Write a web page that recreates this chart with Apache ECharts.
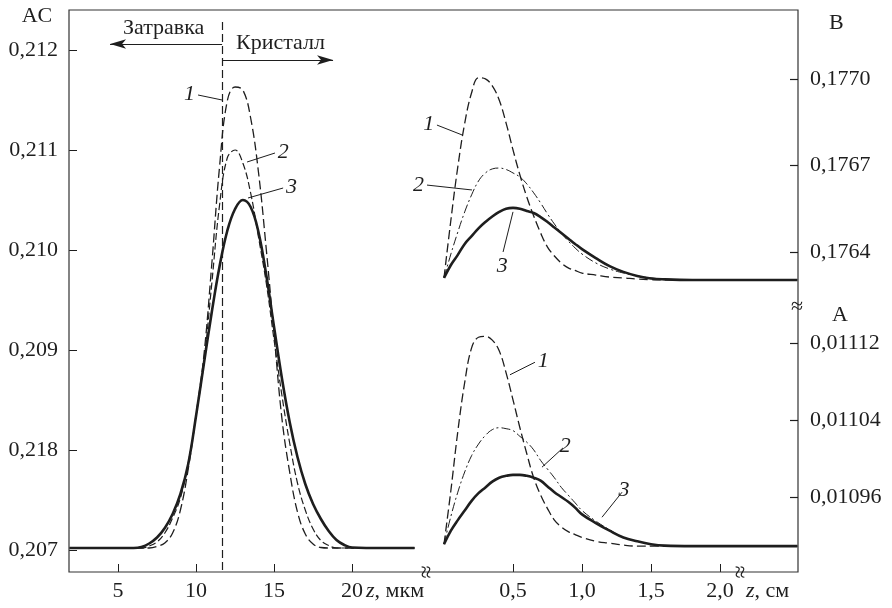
<!DOCTYPE html>
<html><head><meta charset="utf-8">
<script src="https://cdn.jsdelivr.net/npm/echarts@6/dist/echarts.min.js"></script>
<style>html,body{margin:0;padding:0;background:#fff}#c{width:892px;height:608px}</style>
</head><body><div id="c"></div>
<script>
// ---- data: left panel (z, мкм) ----
const zMicron = [1.9, 4, 6, 6.5, 7, 7.5, 8, 8.5, 9, 9.5, 10, 10.5, 11, 11.5, 12, 12.5, 13, 13.5, 14, 14.5, 15, 15.5, 16, 16.5, 17, 17.5, 18, 18.5, 19, 19.5, 20, 22, 24];
const ac1 = [0.20702, 0.20702, 0.20702, 0.20702, 0.20702, 0.207035, 0.20707, 0.20717, 0.2074, 0.20781, 0.20835, 0.20894, 0.20984, 0.21082, 0.21149, 0.21163, 0.2116, 0.21132, 0.21078, 0.21001, 0.20916, 0.20832, 0.20778, 0.20738, 0.20716, 0.20706, 0.207025, 0.20702, 0.20702, 0.20702, 0.20702, 0.20702, 0.20702];
const ac2 = [0.20702, 0.20702, 0.20702, 0.20702, 0.20704, 0.20708, 0.20717, 0.20732, 0.20752, 0.20787, 0.20834, 0.20887, 0.20965, 0.21044, 0.21092, 0.211, 0.21087, 0.21057, 0.21013, 0.20967, 0.2091, 0.20855, 0.20807, 0.20767, 0.2074, 0.20721, 0.207095, 0.207045, 0.20702, 0.20702, 0.20702, 0.20702, 0.20702];
const ac3 = [0.20702, 0.20702, 0.20702, 0.20703, 0.207065, 0.207125, 0.20722, 0.20736, 0.20756, 0.20786, 0.20834, 0.20886, 0.20937, 0.20983, 0.21019, 0.21041, 0.2105, 0.21043, 0.21018, 0.20975, 0.20923, 0.20872, 0.20828, 0.20793, 0.20766, 0.20746, 0.20731, 0.20719, 0.2071, 0.20705, 0.207025, 0.20702, 0.20702];

// ---- data: right panels (z, см) ----
const zCm = [0, 0.05, 0.1, 0.15, 0.2, 0.25, 0.3, 0.35, 0.4, 0.45, 0.5, 0.55, 0.6, 0.65, 0.7, 0.75, 0.8, 0.85, 0.9, 0.95, 1.0, 1.1, 1.2, 1.3, 1.4, 1.5, 1.6, 1.8, 2.0, 2.2, 2.56];
const b1 = [0.17631, 0.176511, 0.176695, 0.176846, 0.176952, 0.177004, 0.177, 0.176976, 0.176927, 0.176847, 0.176754, 0.176667, 0.176591, 0.176525, 0.176466, 0.176417, 0.176386, 0.176362, 0.176345, 0.176336, 0.176327, 0.17632, 0.176313, 0.17631, 0.176306, 0.176304, 0.176303, 0.176303, 0.176303, 0.176303, 0.176303];
const b2 = [0.17631, 0.176393, 0.176469, 0.176539, 0.176598, 0.176646, 0.176674, 0.176688, 0.176691, 0.176686, 0.176674, 0.17666, 0.176636, 0.176605, 0.17657, 0.176532, 0.176497, 0.176466, 0.176438, 0.176414, 0.176393, 0.176362, 0.176341, 0.176327, 0.176317, 0.17631, 0.176306, 0.176303, 0.176303, 0.176303, 0.176303];
const b3 = [0.17631, 0.176355, 0.17639, 0.176428, 0.176455, 0.176482, 0.176504, 0.176523, 0.176539, 0.17655, 0.176553, 0.17655, 0.176542, 0.176535, 0.176521, 0.176504, 0.176485, 0.176466, 0.176447, 0.176428, 0.17641, 0.176379, 0.176351, 0.176331, 0.176317, 0.176308, 0.176305, 0.176303, 0.176303, 0.176303, 0.176303];
const a1 = [0.010911, 0.010967, 0.011028, 0.011079, 0.011115, 0.011126, 0.011127, 0.011123, 0.011112, 0.011089, 0.011061, 0.011032, 0.011005, 0.01098, 0.010962, 0.010948, 0.010936, 0.010929, 0.010924, 0.010921, 0.010918, 0.010914, 0.010912, 0.01091, 0.010909, 0.010909, 0.010909, 0.010909, 0.010909, 0.010909, 0.010909];
const a2 = [0.010911, 0.01094, 0.010965, 0.010986, 0.011003, 0.011015, 0.011024, 0.01103, 0.011032, 0.011031, 0.011029, 0.011023, 0.011017, 0.011009, 0.010998, 0.010989, 0.01098, 0.01097, 0.010962, 0.010954, 0.010946, 0.010935, 0.010926, 0.010918, 0.010914, 0.010911, 0.0109095, 0.010909, 0.010909, 0.010909, 0.010909];
const a3 = [0.010911, 0.010925, 0.010936, 0.010946, 0.010956, 0.010964, 0.01097, 0.010976, 0.01098, 0.010982, 0.010983, 0.010983, 0.010982, 0.01098, 0.010977, 0.010971, 0.010965, 0.01096, 0.010955, 0.010949, 0.010942, 0.010933, 0.010925, 0.010918, 0.010914, 0.010911, 0.0109095, 0.010909, 0.010909, 0.010909, 0.010909];

// ---- tick labels ----
const acTicks = [0.207, 0.208, 0.209, 0.210, 0.211, 0.212];
const acTickLabels = ['0,207', '0,218', '0,209', '0,210', '0,211', '0,212'];
const bTicks = [0.1764, 0.1767, 0.1770];
const bTickLabels = ['0,1764', '0,1767', '0,1770'];
const aTicks = [0.01096, 0.01104, 0.01112];
const aTickLabels = ['0,01096', '0,01104', '0,01112'];
const zMicronTicks = [5, 10, 15, 20];
const zMicronTickLabels = ['5', '10', '15', '20'];
const zCmTicks = [0.5, 1.0, 1.5, 2.0];
const zCmTickLabels = ['0,5', '1,0', '1,5', '2,0'];
const seedBoundary = 11.67;

const FONT = "'Liberation Serif', 'Times New Roman', serif";
const INK = '#1e1e1e';
const ZCM_MIN = -0.1232, ZCM_MAX = 2.5652;
function lab(vals, labels) {
  return function (v) {
    let best = 0, d = Infinity;
    vals.forEach((t, i) => { const dd = Math.abs(t - v); if (dd < d) { d = dd; best = i; } });
    return labels[best];
  };
}
const pair = (xs, ys) => xs.map((x, i) => [x, ys[i]]);

const tickStyle = { show: true, inside: true, length: 8, lineStyle: { color: INK, width: 1 } };
const labelBase = { color: INK, fontFamily: FONT, fontSize: 22 };

function xAx(grid, min, max, ticks, labels) {
  return {
    type: 'value', gridIndex: grid, min: min, max: max,
    axisLine: { show: false, onZero: false }, splitLine: { show: false },
    axisTick: ticks ? Object.assign({ customValues: ticks }, tickStyle) : { show: false },
    axisLabel: ticks ? Object.assign({ customValues: ticks, margin: 8, formatter: lab(ticks, labels) }, labelBase) : { show: false }
  };
}
function yAx(grid, min, max, pos, ticks, labels, margin) {
  return {
    type: 'value', gridIndex: grid, min: min, max: max, position: pos,
    axisLine: { show: false, onZero: false }, splitLine: { show: false },
    axisTick: pos === 'left' ? Object.assign({ customValues: ticks }, tickStyle) : { show: false },
    axisLabel: Object.assign({ customValues: ticks, margin: margin, formatter: lab(ticks, labels),
      align: pos === 'left' ? 'right' : 'left' }, labelBase)
  };
}
const numLabel = (t, pos) => ({ show: true, formatter: t, position: pos, distance: 3,
  color: INK, fontFamily: FONT, fontStyle: 'italic', fontSize: 22 });
function leader(x1, y1, x2, y2, text, pos) {
  return [{ coord: [x1, y1], label: numLabel(text, pos) }, { coord: [x2, y2] }];
}
const mlBase = { silent: true, animation: false, symbol: ['none', 'none'],
  lineStyle: { color: INK, width: 1, type: 'solid' }, label: { show: false }, emphasis: { disabled: true } };

const dashed = { color: INK, width: 1.3, type: [9, 4] };
const dashed2 = { color: INK, width: 1.2, type: [7, 3] };
const dashDot = { color: INK, width: 1, type: [9, 3, 2, 3] };
const solid = { color: INK, width: 2.6, type: 'solid' };

function ser(xi, data, style, ml) {
  const s = { type: 'line', xAxisIndex: xi, yAxisIndex: xi, data: data, showSymbol: false, symbol: 'none',
    smooth: 0.4, lineStyle: style, silent: true, animation: false, z: 3 };
  if (ml) s.markLine = Object.assign({}, mlBase, { data: ml });
  return s;
}

const GRID_R_LEFT = 427, GRID_R_WIDTH = 371;
const graphics = [
  { type: 'rect', shape: { x: 69, y: 10, width: 729, height: 562 }, style: { fill: 'none', stroke: '#333', lineWidth: 1.2 }, z: 1, silent: true },
  { type: 'text', x: 37, y: 16, style: { text: 'AC', font: '22px ' + FONT, fill: INK, align: 'center', verticalAlign: 'middle' } },
  { type: 'text', x: 123, y: 28, style: { text: 'Затравка', font: '22px ' + FONT, fill: INK, align: 'left', verticalAlign: 'middle' } },
  { type: 'text', x: 236, y: 43, style: { text: 'Кристалл', font: '22px ' + FONT, fill: INK, align: 'left', verticalAlign: 'middle' } },
  { type: 'text', x: 829, y: 23, style: { text: 'B', font: '22px ' + FONT, fill: INK, align: 'left', verticalAlign: 'middle' } },
  { type: 'text', x: 832, y: 315, style: { text: 'A', font: '22px ' + FONT, fill: INK, align: 'left', verticalAlign: 'middle' } },
  { type: 'text', x: 366, y: 591, style: { text: '{i|z}, мкм', fill: INK, align: 'left', verticalAlign: 'middle',
    font: '22px ' + FONT, rich: { i: { fontStyle: 'italic', fontFamily: FONT, fontSize: 22, fill: INK } } } },
  { type: 'text', x: 746, y: 591, style: { text: '{i|z}, см', fill: INK, align: 'left', verticalAlign: 'middle',
    font: '22px ' + FONT, rich: { i: { fontStyle: 'italic', fontFamily: FONT, fontSize: 22, fill: INK } } } },
  { type: 'text', x: 428, y: 572, rotation: Math.PI / 2, z: 10, style: { text: '≈', font: '24px ' + FONT, fill: INK, align: 'center', verticalAlign: 'middle' } },
  { type: 'text', x: 742, y: 572, rotation: Math.PI / 2, z: 10, style: { text: '≈', font: '24px ' + FONT, fill: INK, align: 'center', verticalAlign: 'middle' } },
  { type: 'text', x: 797, y: 307, z: 10, style: { text: '≈', font: '22px ' + FONT, fill: INK, align: 'center', verticalAlign: 'middle' } }
];

const option = {
  backgroundColor: '#fff',
  animation: false,
  grid: [
    { left: 69, top: 10, width: 358, height: 562 },
    { left: GRID_R_LEFT, top: 10, width: GRID_R_WIDTH, height: 290 },
    { left: GRID_R_LEFT, top: 300, width: GRID_R_WIDTH, height: 272 }
  ],
  xAxis: [
    xAx(0, 1.86, 24.8, zMicronTicks, zMicronTickLabels),
    xAx(1, ZCM_MIN, ZCM_MAX, null, null),
    xAx(2, ZCM_MIN, ZCM_MAX, zCmTicks, zCmTickLabels)
  ],
  yAxis: [
    yAx(0, 0.20678, 0.2124, 'left', acTicks, acTickLabels, 11),
    yAx(1, 0.1762335, 0.177239, 'right', bTicks, bTickLabels, 12),
    yAx(2, 0.0108821, 0.0111647, 'right', aTicks, aTickLabels, 12)
  ],
  series: [
    ser(0, pair(zMicron, ac1), dashed, [
      leader(10.13, 0.21155, seedBoundary, 0.2115, '1', 'start'),
      [{ coord: [seedBoundary, 0.21228], lineStyle: { type: [8, 4], width: 1.2, color: INK } }, { coord: [seedBoundary, 0.20678] }],
      [{ coord: [seedBoundary, 0.21206], symbol: 'none', lineStyle: { width: 1.2, color: INK } }, { coord: [4.49, 0.21206], symbol: 'arrow', symbolSize: [7, 16] }],
      [{ coord: [seedBoundary, 0.2119], symbol: 'none', lineStyle: { width: 1.2, color: INK } }, { coord: [18.78, 0.2119], symbol: 'arrow', symbolSize: [7, 16] }]
    ]),
    ser(0, pair(zMicron, ac2), dashed2, [leader(13.27, 0.21088, 15.06, 0.21097, '2', 'end')]),
    ser(0, pair(zMicron, ac3), solid, [leader(13.33, 0.21052, 15.58, 0.21062, '3', 'end')]),
    ser(1, pair(zCm, b1), dashed, [leader(-0.051, 0.17684, 0.13, 0.176806, '1', 'start')]),
    ser(1, pair(zCm, b2), dashDot, [leader(-0.123, 0.176632, 0.203, 0.176615, '2', 'start')]),
    ser(1, pair(zCm, b3), solid, [leader(0.5, 0.176539, 0.428, 0.1764, '3', 'end')]),
    ser(2, pair(zCm, a1), dashed, [leader(0.478, 0.011087, 0.659, 0.0111, '1', 'end')]),
    ser(2, pair(zCm, a2), dashDot, [leader(0.71, 0.010991, 0.862, 0.011011, '2', 'end')]),
    ser(2, pair(zCm, a3), solid, [leader(1.145, 0.010939, 1.29, 0.010965, '3', 'end')])
  ],
  graphic: graphics
};
const chart = echarts.init(document.getElementById('c'), null, { renderer: 'canvas' });
chart.setOption(option);

// inward ticks on the right-hand value axes, placed through the panels' own scales
const tickMarks = [];
const xRight = GRID_R_LEFT + GRID_R_WIDTH;
[[1, bTicks], [2, aTicks]].forEach(([gi, vals]) => {
  vals.forEach(v => {
    let p = chart.convertToPixel({ gridIndex: gi }, [ZCM_MAX, v]);
    let y = Array.isArray(p) ? p[1] : NaN;
    if (!isFinite(y)) {
      p = chart.convertToPixel({ seriesIndex: gi === 1 ? 3 : 6 }, [ZCM_MAX, v]);
      y = Array.isArray(p) ? p[1] : NaN;
    }
    if (!isFinite(y)) return;
    y = Math.round(y) + 0.5;
    tickMarks.push({ type: 'polyline', z: 50, silent: true,
      shape: { points: [[xRight - 8, y], [xRight, y]] },
      style: { stroke: INK, lineWidth: 1.2, fill: 'none' } });
  });
});
chart.setOption({ graphic: graphics.concat(tickMarks) });
</script>
</body></html>
